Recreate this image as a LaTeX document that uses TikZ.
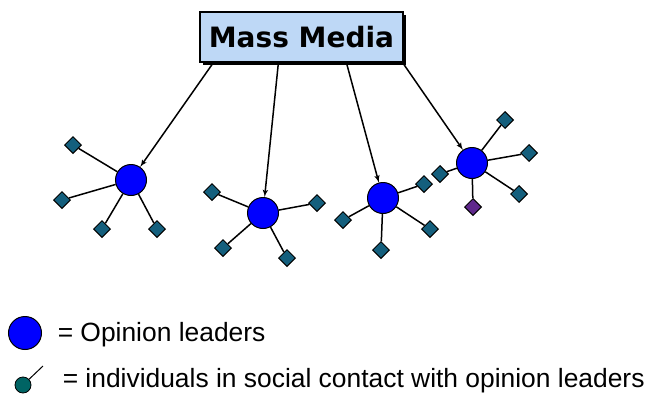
\documentclass[tikz,border=0pt]{standalone}
\usepackage{fontspec}
\setmainfont{Liberation Sans}
\newfontfamily\mediafont{DejaVu Sans}
\usepackage{tikz}
\usetikzlibrary{arrows,shapes.geometric,shadows}
\definecolor{leaderblue}{RGB}{0,0,255}
\definecolor{personteal}{RGB}{20,95,125}
\definecolor{personpurple}{RGB}{95,40,140}
\definecolor{keyteal}{RGB}{0,100,100}
\definecolor{mediablue}{RGB}{190,216,246}

\begin{document}
\begin{tikzpicture}[x=1pt,y=-1pt,>=latex',line width=1.5pt,
  leader/.style={circle,draw=black,fill=leaderblue,line width=1pt,inner sep=0pt,minimum size=31pt},
  person/.style={diamond,draw=black,fill=personteal,line width=1pt,inner sep=0pt,minimum size=17pt},
  media/.style={rectangle,draw=black,fill=mediablue,line width=1.2pt,minimum width=203pt,minimum height=50pt,inner sep=0pt,
    drop shadow={shadow xshift=3pt,shadow yshift=-3pt,fill=black,opacity=1},
    font=\mediafont\bfseries\fontsize{28}{32}\selectfont},
  keytext/.style={inner sep=0pt,anchor=base west,font=\fontsize{26.4}{30}\selectfont}]
\useasboundingbox (0,0) rectangle (646,394);

\node[media] (media) at (301.5,37) {Mass Media};

% opinion leaders
\node[leader] (lead1) at (131,180) {};
\node[leader] (lead2) at (263,213) {};
\node[leader] (lead3) at (383,198) {};
\node[leader] (lead4) at (472,163) {};

\draw[->] ([xshift=14pt]media.south west) -- (lead1);
\draw[->] ([xshift=79pt]media.south west) -- (lead2);
\draw[->] ([xshift=147pt]media.south west) -- (lead3);
\draw[->] ([xshift=-1pt]media.south east) -- (lead4);

% individuals
\node[person] (p11) at (73,145) {};
\node[person] (p12) at (62,200) {};
\node[person] (p13) at (102,229) {};
\node[person] (p14) at (157,229) {};
\node[person] (p21) at (212,192) {};
\node[person] (p22) at (317,203) {};
\node[person] (p23) at (223,248) {};
\node[person] (p24) at (287,258) {};
\node[person] (p31) at (343,220) {};
\node[person] (p32) at (424,184) {};
\node[person] (p33) at (430,229) {};
\node[person] (p34) at (381,250) {};
\node[person] (p41) at (505,120) {};
\node[person] (p42) at (529,153) {};
\node[person] (p43) at (519,194) {};
\node[person,fill=personpurple] (p44) at (473,207) {};
\node[person] (p45) at (440,174) {};

\foreach \p in {p11,p12,p13,p14} \draw (lead1) -- (\p);
\foreach \p in {p21,p22,p23,p24} \draw (lead2) -- (\p);
\foreach \p in {p31,p32,p33,p34} \draw (lead3) -- (\p);
\foreach \p in {p41,p42,p43,p44,p45} \draw (lead4) -- (\p);

% key
\node[leader,minimum width=33pt,minimum height=31pt] (keylead) at (25,333) {};
\node[keytext] (keyleadtext) at (57,341) {= Opinion leaders};
\node[circle,draw=black,fill=keyteal,line width=0.8pt,inner sep=0pt,minimum size=16pt] (keyperson) at (23,385) {};
\coordinate (keytip) at (43,366);
\draw[line width=1pt] (keyperson) -- (keytip);
\node[keytext] (keypersontext) at (62,387) {= individuals in social contact with opinion leaders};
\end{tikzpicture}
\end{document}
